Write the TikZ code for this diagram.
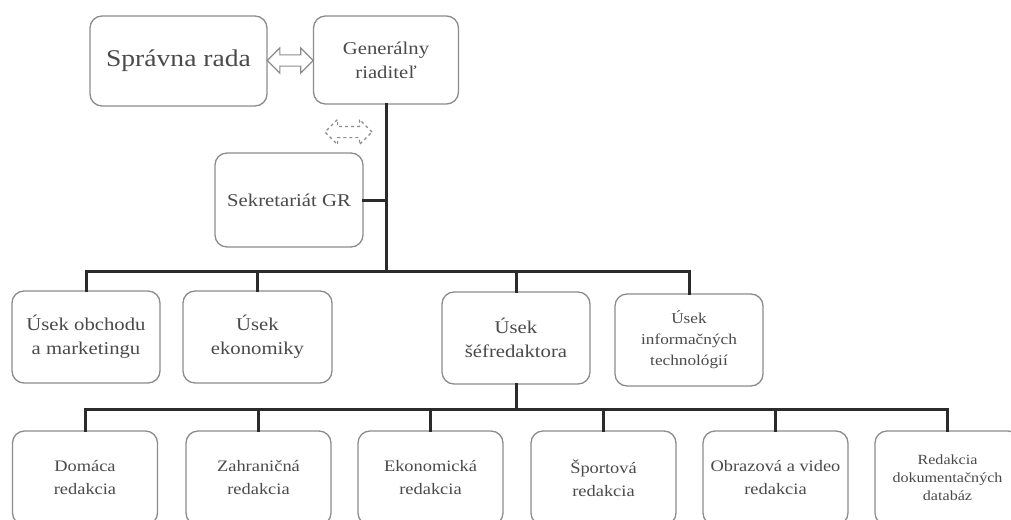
\documentclass[tikz,border=0pt]{standalone}
\usepackage{fontspec}
\setmainfont{Liberation Serif}[FakeStretch=1.15]
\usetikzlibrary{shapes.arrows,calc}
\definecolor{boxline}{HTML}{8C8C8C}
\definecolor{txt}{HTML}{4A4A4A}
\definecolor{conncol}{HTML}{2B2B2B}
\tikzset{
  box/.style={draw=boxline, line width=1.3pt, rounded corners=12pt, fill=white,
    align=center, text=txt, inner sep=2pt, font=\fontsize{18}{24}\selectfont},
  conn/.style={draw=conncol, line width=3pt, line cap=rect, line join=miter},
  hollowarrow/.style={double arrow, draw=boxline, line width=1.2pt, fill=white,
    inner sep=5pt, double arrow head extend=7pt, minimum height=46pt}
}
\begin{document}
\begin{tikzpicture}[x=1pt,y=-1pt]
\useasboundingbox (0,0) rectangle (1011,519);
\clip (0,0) rectangle (1011,519);
% top
\node[box, minimum width=177pt, minimum height=90pt, font=\fontsize{24}{28}\selectfont] (sr) at (178.5,61) {Správna rada};
\node[box, minimum width=145pt, minimum height=88pt] (gr) at (386,60) {Generálny\\riaditeľ};
\node[box, minimum width=148pt, minimum height=94pt] (sek) at (289,200) {Sekretariát GR};
% row 2
\node[box, minimum width=148pt, minimum height=92pt] (uob) at (86,337) {Úsek obchodu\\a marketingu};
\node[box, minimum width=149pt, minimum height=92pt] (uek) at (257.5,337) {Úsek\\ekonomiky};
\node[box, minimum width=148pt, minimum height=92pt] (usf) at (516,338) {Úsek\\šéfredaktora};
\node[box, minimum width=148pt, minimum height=92pt, font=\fontsize{15}{21}\selectfont] (uit) at (689,340) {Úsek\\informačných\\technológií};
% row 3
\tikzset{r3/.style={box, minimum width=145pt, minimum height=94pt, font=\fontsize{16}{23}\selectfont}}
\node[r3] (dom) at (85,478) {Domáca\\redakcia};
\node[r3] (zah) at (258.5,478) {Zahraničná\\redakcia};
\node[r3] (eko) at (430.5,478) {Ekonomická\\redakcia};
\node[r3] (spo) at (603.5,478) {Športová\\redakcia};
\node[r3] (obr) at (775.5,478) {Obrazová a video\\redakcia};
\node[r3, font=\fontsize{14}{18}\selectfont] (red) at (947.5,478) {Redakcia\\dokumentačných\\databáz};
% arrows
\node[hollowarrow] (a1) at ($(sr.east)!0.5!(gr.west)$) {};
\node[hollowarrow, dashed, minimum height=47pt] (a2) at (348.5,132) {};
% connectors
\coordinate (bus1) at (0,271);
\coordinate (bus2) at (0,409);
\draw[conn] (gr.south) -- (gr.south |- bus1);
\draw[conn] (sek.east) -- (sek.east -| gr.south);
\draw[conn] (uob.north) -- (uob.north |- bus1) -- (uit.north |- bus1) -- (uit.north);
\draw[conn] (uek.north) -- (uek.north |- bus1);
\draw[conn] (usf.north) -- (usf.north |- bus1);
\draw[conn] (usf.south) -- (usf.south |- bus2);
\draw[conn] (dom.north) -- (dom.north |- bus2) -- (red.north |- bus2) -- (red.north);
\draw[conn] (zah.north) -- (zah.north |- bus2);
\draw[conn] (eko.north) -- (eko.north |- bus2);
\draw[conn] (spo.north) -- (spo.north |- bus2);
\draw[conn] (obr.north) -- (obr.north |- bus2);
\end{tikzpicture}
\end{document}
